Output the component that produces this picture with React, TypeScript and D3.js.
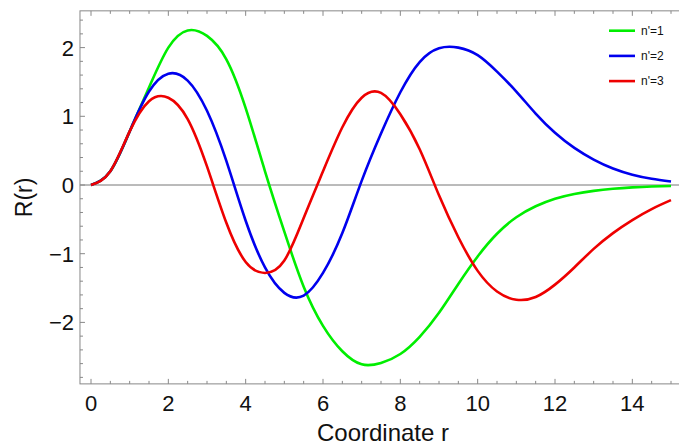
import React from "react";
import * as d3 from "d3";

const W = 679;
const H = 446;

const seriesNames = ["n'=1", "n'=2", "n'=3"];
const seriesColors = ["#00ee00", "#0000ee", "#ee0000"];

// r sampled every 0.5 from 0 to 15
const rValues = [0, 0.5, 1, 1.5, 2, 2.5, 3, 3.5, 4, 4.5, 5, 5.5, 6, 6.5, 7, 7.5, 8, 8.5, 9, 9.5, 10, 10.5, 11, 11.5, 12, 12.5, 13, 13.5, 14, 14.5, 15];

const greenV = [0, 0.2, 0.78, 1.42, 2.0, 2.25, 2.17, 1.83, 1.12, 0.2, -0.68, -1.48, -2.05, -2.42, -2.61, -2.59, -2.46, -2.21, -1.86, -1.44, -1.04, -0.71, -0.47, -0.31, -0.2, -0.13, -0.085, -0.055, -0.035, -0.022, -0.015];

const blueV = [0, 0.2, 0.78, 1.36, 1.62, 1.52, 1.08, 0.35, -0.52, -1.2, -1.57, -1.61, -1.28, -0.7, 0.06, 0.75, 1.35, 1.79, 1.99, 2.0, 1.89, 1.65, 1.36, 1.04, 0.76, 0.54, 0.37, 0.24, 0.15, 0.09, 0.05];

const redV = [0, 0.2, 0.78, 1.22, 1.27, 0.96, 0.27, -0.55, -1.12, -1.28, -1.1, -0.48, 0.2, 0.84, 1.27, 1.34, 1.03, 0.52, -0.15, -0.76, -1.25, -1.55, -1.67, -1.63, -1.45, -1.2, -0.93, -0.7, -0.51, -0.35, -0.22];

const xMajor = [0, 2, 4, 6, 8, 10, 12, 14];
const yMajor = [-2, -1, 0, 1, 2];
const xLabel = "Coordinate r";
const yLabel = "R(r)";

export default function App() {
  const x = d3.scaleLinear().domain([0, 15]).range([91, 671]);
  const y = d3.scaleLinear().domain([-2, 2]).range([322.4, 47.6]);
  const left = x(-0.285);
  const right = x(15.35);
  const top = y(2.535);
  const bottom = y(-2.895);

  const series = [greenV, blueV, redV].map((vals) =>
    rValues.map((r, i) => [r, vals[i]] as [number, number])
  );
  const line = d3
    .line<[number, number]>()
    .x((d) => x(d[0]))
    .y((d) => y(d[1]))
    .curve(d3.curveNatural);

  const xMinor = d3.range(0, 15.3, 0.5).filter((v) => Math.abs(v / 2 - Math.round(v / 2)) > 1e-6);
  const yMinor = d3.range(-2.8, 2.55, 0.2).filter((v) => Math.abs(v - Math.round(v)) > 1e-6);
  const font = "'Liberation Sans', Arial, sans-serif";
  const frameColor = "#888";
  const majorLen = 5;
  const minorLen = 3;

  return (
    <svg width={W} height={H} style={{ position: "absolute", left: 0, top: 0 }}>
      <rect width={W} height={H} fill="#fff" />
      <line x1={left} x2={right} y1={y(0)} y2={y(0)} stroke="#777" strokeWidth={1} />
      {series.map((s, i) => (
        <path key={i} d={line(s) || ""} fill="none" stroke={seriesColors[i]} strokeWidth={2.6} strokeLinejoin="round" />
      ))}
      <rect x={left} y={top} width={right - left} height={bottom - top} fill="none" stroke={frameColor} strokeWidth={1} />
      {xMajor.map((v) => (
        <g key={"xm" + v}>
          <line x1={x(v)} x2={x(v)} y1={bottom} y2={bottom - majorLen} stroke={frameColor} />
          <line x1={x(v)} x2={x(v)} y1={top} y2={top + majorLen} stroke={frameColor} />
          <text x={x(v)} y={411} textAnchor="middle" fontFamily={font} fontSize={22} fill="#111">
            {v}
          </text>
        </g>
      ))}
      {xMinor.map((v) => (
        <g key={"xn" + v}>
          <line x1={x(v)} x2={x(v)} y1={bottom} y2={bottom - minorLen} stroke={frameColor} />
          <line x1={x(v)} x2={x(v)} y1={top} y2={top + minorLen} stroke={frameColor} />
        </g>
      ))}
      {yMajor.map((v) => (
        <g key={"ym" + v}>
          <line x1={left} x2={left + majorLen} y1={y(v)} y2={y(v)} stroke={frameColor} />
          <text x={74} y={y(v) + 8} textAnchor="end" fontFamily={font} fontSize={22} fill="#111">
            {v < 0 ? "\u2212" + Math.abs(v) : String(v)}
          </text>
        </g>
      ))}
      {yMinor.map((v) => (
        <line key={"yn" + v.toFixed(1)} x1={left} x2={left + minorLen} y1={y(v)} y2={y(v)} stroke={frameColor} />
      ))}
      <text x={383} y={441} textAnchor="middle" fontFamily={font} fontSize={24} fill="#111">
        {xLabel}
      </text>
      <text
        transform={`translate(32, ${(top + bottom) / 2}) rotate(-90)`}
        textAnchor="middle"
        fontFamily={font}
        fontSize={23}
        fill="#111"
      >
        {yLabel}
      </text>
      {seriesNames.map((n, i) => (
        <g key={n} transform={`translate(609, ${30.7 + i * 25.2})`}>
          <line x1={0} x2={26} y1={0} y2={0} stroke={seriesColors[i]} strokeWidth={2.6} />
          <text x={32} y={4.3} fontFamily={font} fontSize={12} fill="#111">
            {n}
          </text>
        </g>
      ))}
    </svg>
  );
}
